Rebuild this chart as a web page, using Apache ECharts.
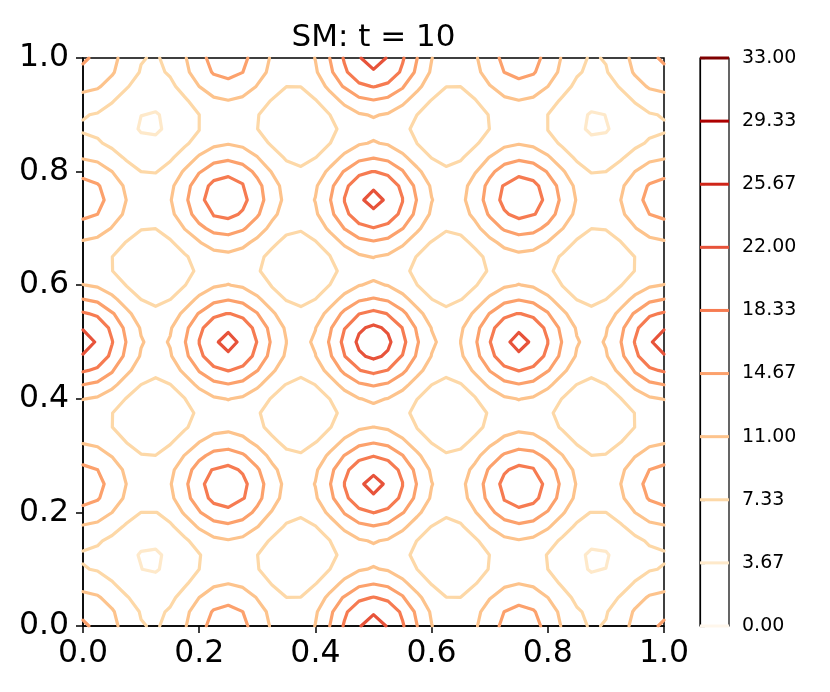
<!DOCTYPE html>
<html><head><meta charset="utf-8">
<script src="https://cdn.jsdelivr.net/npm/echarts@6/dist/echarts.min.js"></script>
<style>html,body{margin:0;padding:0;background:#fff}#c{width:830px;height:692px}</style>
</head><body><div id="c"></div>
<script>
// Field values at x, y = 0, 1/8, ..., 1
const sampleX = [0, 0.125, 0.25, 0.375, 0.5, 0.625, 0.75, 0.875, 1];
const sampleY = [0, 0.125, 0.25, 0.375, 0.5, 0.625, 0.75, 0.875, 1];
const rowY0   = [15.0, 7.0, 16.5, 9.0, 23.0, 9.0, 16.5, 7.0, 15.0];
const rowY125 = [7.0, 3.35, 9.0, 4.5, 10.0, 4.5, 9.0, 3.35, 7.0];
const rowY250 = [16.5, 9.0, 20.7, 9.5, 22.8, 9.5, 20.7, 9.0, 16.5];
const rowY375 = [9.0, 4.5, 9.5, 4.5, 10.0, 4.5, 9.5, 4.5, 9.0];
const rowY500 = [23.0, 10.0, 22.8, 10.0, 24.0, 10.0, 22.8, 10.0, 23.0];
const rowY625 = [9.0, 4.5, 9.5, 4.5, 10.0, 4.5, 9.5, 4.5, 9.0];
const rowY750 = [16.5, 9.0, 20.7, 9.5, 22.8, 9.5, 20.7, 9.0, 16.5];
const rowY875 = [7.0, 3.35, 9.0, 4.5, 10.0, 4.5, 9.0, 3.35, 7.0];
const rowY1   = [15.0, 7.0, 16.5, 9.0, 23.0, 9.0, 16.5, 7.0, 15.0];

const levels = [0, 3.6667, 7.3333, 11, 14.6667, 18.3333, 22, 25.6667, 29.3333, 33];
const levelColors = ['#fff7ec', '#fee9ca', '#fdd8a7', '#fdc38c', '#fca16c', '#f67b51', '#e7533a', '#cf2518', '#ad0000', '#7f0000'];
const xTickLabels = ['0.0', '0.2', '0.4', '0.6', '0.8', '1.0'];
const yTickLabels = ['0.0', '0.2', '0.4', '0.6', '0.8', '1.0'];
const titleText = 'SM: t = 10';

const samples = [rowY0, rowY125, rowY250, rowY375, rowY500, rowY625, rowY750, rowY875, rowY1];

// smooth cosine interpolation (DCT-I) of the sampled field
const N = sampleX.length - 1;
function wgt(k) { return (k === 0 || k === N) ? 0.5 : 1; }
function basis(x) {
  const out = [];
  for (let j = 0; j <= N; j++) {
    let s = 0;
    for (let k = 0; k <= N; k++) s += (2 / N) * wgt(k) * wgt(j) * Math.cos(k * Math.PI * j / N) * Math.cos(k * Math.PI * x);
    out.push(s);
  }
  return out;
}
const M = 41;
const coords = [];
for (let i = 0; i < M; i++) coords.push(i / (M - 1));
const B = coords.map(basis);
const F = [];
for (let j = 0; j < M; j++) {
  const row = [];
  for (let i = 0; i < M; i++) {
    let s = 0;
    for (let b = 0; b <= N; b++) {
      let r = 0;
      for (let a = 0; a <= N; a++) r += samples[b][a] * B[i][a];
      s += r * B[j][b];
    }
    row.push(s);
  }
  F.push(row);
}

// marching squares
function contour(L) {
  const pts = {}, adj = {};
  function addPt(key, x, y) { pts[key] = [x, y]; if (!adj[key]) adj[key] = []; }
  function link(a, b) { adj[a].push(b); adj[b].push(a); }
  for (let j = 0; j < M - 1; j++) {
    for (let i = 0; i < M - 1; i++) {
      const v0 = F[j][i], v1 = F[j][i + 1], v2 = F[j + 1][i + 1], v3 = F[j + 1][i];
      const b0 = v0 >= L, b1 = v1 >= L, b2 = v2 >= L, b3 = v3 >= L;
      const x0 = coords[i], x1 = coords[i + 1], y0 = coords[j], y1 = coords[j + 1];
      const e = [null, null, null, null];
      if (b0 !== b1) { const k = 'h' + i + '_' + j; const t = (L - v0) / (v1 - v0); addPt(k, x0 + t * (x1 - x0), y0); e[0] = k; }
      if (b1 !== b2) { const k = 'v' + (i + 1) + '_' + j; const t = (L - v1) / (v2 - v1); addPt(k, x1, y0 + t * (y1 - y0)); e[1] = k; }
      if (b3 !== b2) { const k = 'h' + i + '_' + (j + 1); const t = (L - v3) / (v2 - v3); addPt(k, x0 + t * (x1 - x0), y1); e[2] = k; }
      if (b0 !== b3) { const k = 'v' + i + '_' + j; const t = (L - v0) / (v3 - v0); addPt(k, x0, y0 + t * (y1 - y0)); e[3] = k; }
      const list = e.filter(v => v !== null);
      if (list.length === 2) link(list[0], list[1]);
      else if (list.length === 4) {
        const c = (v0 + v1 + v2 + v3) / 4 >= L;
        if (b0 !== c) { link(e[3], e[0]); link(e[1], e[2]); }
        else { link(e[0], e[1]); link(e[2], e[3]); }
      }
    }
  }
  const used = {};
  const lines = [];
  function walk(start) {
    const path = [start]; used[start] = true;
    let cur = start;
    while (true) {
      const nx = adj[cur].find(n => !used[n]);
      if (nx === undefined) break;
      used[nx] = true; path.push(nx); cur = nx;
    }
    if (path.length > 2 && adj[cur].indexOf(start) >= 0) path.push(start);
    return path.map(k => pts[k]);
  }
  Object.keys(adj).forEach(k => { if (!used[k] && adj[k].length === 1) lines.push(walk(k)); });
  Object.keys(adj).forEach(k => { if (!used[k]) lines.push(walk(k)); });
  return lines;
}

const series = [];
levels.forEach((L, li) => {
  contour(L).forEach(path => {
    series.push({
      type: 'line', xAxisIndex: 0, yAxisIndex: 0, data: path, showSymbol: false, symbol: 'none',
      silent: true, animation: false,
      lineStyle: { color: levelColors[li], width: 3.2, join: 'round', cap: 'round' }
    });
  });
  series.push({
    type: 'line', xAxisIndex: 1, yAxisIndex: 1, data: [[0, L], [1, L]], showSymbol: false, symbol: 'none',
    silent: true, animation: false, clip: false,
    lineStyle: { color: levelColors[li], width: 3 }
  });
});

const font = 'DejaVu Sans';
const chart = echarts.init(document.getElementById('c'));
chart.setOption({
  backgroundColor: '#ffffff',
  animation: false,
  title: {
    text: titleText, left: 368.5, top: 17, textAlign: 'center',
    textStyle: { fontFamily: font, fontSize: 31, fontWeight: 'normal', color: '#000' }
  },
  grid: [
    { left: 83, top: 58, width: 581, height: 568, show: true, borderColor: '#000', borderWidth: 1.5, backgroundColor: 'transparent' },
    { left: 700, top: 58, width: 29, height: 568, show: true, borderColor: '#000', borderWidth: 1.2, backgroundColor: 'transparent' }
  ],
  xAxis: [
    {
      type: 'value', gridIndex: 0, min: 0, max: 1, interval: 0.2,
      axisLine: { show: true, onZero: false, lineStyle: { color: '#000', width: 1.5 } },
      axisTick: { show: true, length: 7, lineStyle: { color: '#000', width: 1.5 } },
      splitLine: { show: false },
      axisLabel: { margin: 12, color: '#000', fontFamily: font, fontSize: 31.5, formatter: (v, i) => xTickLabels[i] }
    },
    { type: 'value', gridIndex: 1, min: 0, max: 1, show: false }
  ],
  yAxis: [
    {
      type: 'value', gridIndex: 0, min: 0, max: 1, interval: 0.2,
      axisLine: { show: true, onZero: false, lineStyle: { color: '#000', width: 1.5 } },
      axisTick: { show: true, length: 7, lineStyle: { color: '#000', width: 1.5 } },
      splitLine: { show: false },
      axisLabel: { margin: 14, color: '#000', fontFamily: font, fontSize: 31.5, formatter: (v, i) => yTickLabels[i] }
    },
    {
      type: 'value', gridIndex: 1, min: 0, max: 33, interval: 33 / 9, position: 'right',
      axisLine: { show: true, lineStyle: { color: '#000', width: 1.2 } },
      axisTick: { show: true, length: 5, lineStyle: { color: '#000', width: 1.2 } },
      splitLine: { show: false },
      axisLabel: { margin: 13, color: '#000', fontFamily: font, fontSize: 19, formatter: v => v.toFixed(2) }
    }
  ],
  series: series
});
</script>
</body></html>
